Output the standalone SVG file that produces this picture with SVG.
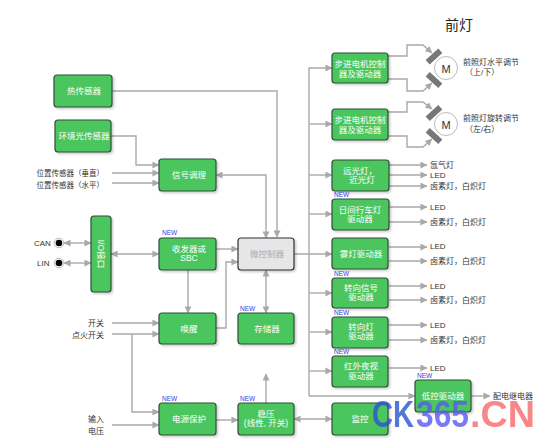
<svg xmlns="http://www.w3.org/2000/svg" width="550" height="448" viewBox="0 0 550 448">
<defs>
<filter id="sh" x="-10%" y="-10%" width="125%" height="125%"><feDropShadow dx="1.5" dy="1.5" stdDeviation="1" flood-color="#000" flood-opacity="0.22"/></filter>
<marker id="a" viewBox="0 0 8 8" refX="7.5" refY="4" markerWidth="7" markerHeight="7" markerUnits="userSpaceOnUse" orient="auto-start-reverse"><path d="M0 0L8 4L0 8Z" fill="#a9a9a9"/></marker>
</defs>
<style>
text{font-family:"Liberation Sans","Noto Sans CJK SC",sans-serif}
.g rect{fill:#4cc65f;stroke:#2f4f38;stroke-width:1.2;filter:url(#sh)}
.u rect{fill:#e6e6e6;stroke:#333;stroke-width:1.2;filter:url(#sh)}
.g text{fill:#fff;font-size:8.5px;text-anchor:middle}
.u text{fill:#aaa;font-size:8.5px;text-anchor:middle}
.c path{fill:none;stroke:#a9a9a9;stroke-width:1.4;marker-end:url(#a)}
.c path.b{marker-start:url(#a)}
.l{font-size:8px;fill:#333}
.r{text-anchor:end}
.new{font-size:6.5px;fill:#3a3ae0}
.bar{fill:#777}
</style>
<rect width="550" height="448" fill="#fff"/>
<text x="459" y="30" font-size="14" fill="#222" text-anchor="middle">前灯</text>
<g class="c" id="connectors">
<path d="M112 91H277V237"/>
<path d="M111 136H136V165H159"/>
<path d="M112 173H159"/>
<path d="M112 183H159"/>
<path class="b" d="M216 175H266V238"/>
<path class="b" d="M64 243H91"/>
<path class="b" d="M64 263H91"/>
<path class="b" d="M111 254H159"/>
<path d="M216 249H238"/>
<path d="M216 328H226V262H238"/>
<path d="M188 270V313"/>
<path class="b" d="M266 270V313"/>
<path d="M112 323H159"/>
<path d="M112 334H159"/>
<path d="M132 334V412H159"/>
<path d="M112 425H159"/>
<path d="M216 420H238"/>
<path d="M266 403V374"/>
<path class="b" d="M294 419H332"/>
<path d="M294 254H332"/>
<path d="M309 396V68H332"/>
<path d="M309 124H332"/>
<path d="M309 175H332"/>
<path d="M309 214H332"/>
<path d="M309 293H332"/>
<path d="M309 332H332"/>
<path d="M309 371H332"/>
<path d="M309 396H415"/>
<path d="M388 56H407V45H423L432 53"/>
<path d="M388 79H407V91H423L432 83"/>
<path d="M388 112H407V102H423L432 109"/>
<path d="M388 136H407V147H423L432 139"/>
<path d="M389 165H427"/>
<path d="M389 175H427"/>
<path d="M389 186H427"/>
<path d="M389 207H427"/>
<path d="M389 222H427"/>
<path d="M389 247H427"/>
<path d="M389 261H427"/>
<path d="M389 286H427"/>
<path d="M389 300H427"/>
<path d="M389 325H427"/>
<path d="M389 340H427"/>
<path d="M389 368H427"/>
<path d="M471 396H490"/>
</g>
<g id="motor1"><rect class="bar" x="425.500" y="53.500" width="17" height="6" transform="rotate(-42 434 56.500)"/><rect class="bar" x="425.500" y="77" width="17" height="6" transform="rotate(42 434 80)"/><circle cx="446" cy="68" r="11.500" fill="#fff" stroke="#bbb"/><text x="446" y="72.500" font-size="11" fill="#333" text-anchor="middle">M</text></g>
<g id="motor2"><rect class="bar" x="425.500" y="110" width="17" height="6" transform="rotate(-42 434 113)"/><rect class="bar" x="425.500" y="133" width="17" height="6" transform="rotate(42 434 136)"/><circle cx="446" cy="124" r="11.500" fill="#fff" stroke="#bbb"/><text x="446" y="128.500" font-size="11" fill="#333" text-anchor="middle">M</text></g>
<g id="can"><circle cx="59" cy="243" r="4.800" fill="#fff" stroke="#bbb"/><circle cx="59" cy="243" r="3.300" fill="#000"/><text class="l" x="34" y="246">CAN</text></g>
<g id="lin"><circle cx="59" cy="263" r="4.800" fill="#fff" stroke="#bbb"/><circle cx="59" cy="263" r="3.300" fill="#000"/><text class="l" x="37" y="266">LIN</text></g>
<g id="n-heat" class="g"><rect x="54" y="75" width="58" height="32" rx="3"/><text x="84" y="94">热传感器</text></g>
<g id="n-light" class="g"><rect x="55" y="120" width="56" height="32" rx="3"/><text x="84" y="139">环境光传感器</text></g>
<g id="n-cond" class="g"><rect x="159" y="159" width="57" height="32" rx="3"/><text x="189" y="178">信号调理</text></g>
<g id="n-io" class="g"><rect x="91" y="216" width="20" height="76" rx="3"/><text x="0" y="0" transform="translate(98,254) rotate(90)">I/O接口</text></g>
<g id="n-sbc" class="g"><rect x="159" y="238" width="57" height="32" rx="3"/><text x="189" y="252">收发器或</text><text x="189" y="261">SBC</text></g>
<g id="n-mcu" class="u"><rect x="238" y="238" width="56" height="32" rx="3"/><text x="267" y="257">微控制器</text></g>
<g id="n-wake" class="g"><rect x="159" y="313" width="57" height="31" rx="3"/><text x="189" y="332">唤醒</text></g>
<g id="n-mem" class="g"><rect x="238" y="313" width="56" height="31" rx="3"/><text x="267" y="332">存储器</text></g>
<g id="n-prot" class="g"><rect x="159" y="403" width="57" height="32" rx="3"/><text x="189" y="422">电源保护</text></g>
<g id="n-reg" class="g"><rect x="238" y="403" width="56" height="32" rx="3"/><text x="266" y="417">稳压</text><text x="266" y="426">(线性, 开关)</text></g>
<g id="n-mon" class="g"><rect x="332" y="403" width="56" height="32" rx="3"/><text x="360" y="422">监控</text></g>
<g id="n-step1" class="g"><rect x="332" y="53" width="56" height="30" rx="3"/><text x="360" y="67">步进电机控制</text><text x="360" y="77">器及驱动器</text></g>
<g id="n-step2" class="g"><rect x="332" y="109" width="56" height="31" rx="3"/><text x="360" y="123">步进电机控制</text><text x="360" y="133">器及驱动器</text></g>
<g id="n-beam" class="g"><rect x="332" y="160" width="57" height="31" rx="3"/><text x="360" y="174">远光灯，</text><text x="362" y="183">近光灯</text></g>
<g id="n-day" class="g"><rect x="332" y="199" width="57" height="31" rx="3"/><text x="360" y="213">日间行车灯</text><text x="360" y="222">驱动器</text></g>
<g id="n-fog" class="g"><rect x="332" y="238" width="56" height="31" rx="3"/><text x="361" y="257">雾灯驱动器</text></g>
<g id="n-turn1" class="g"><rect x="332" y="278" width="56" height="30" rx="3"/><text x="361" y="291">转向信号</text><text x="361" y="300">驱动器</text></g>
<g id="n-turn2" class="g"><rect x="332" y="317" width="56" height="31" rx="3"/><text x="361" y="330">转向灯</text><text x="361" y="339">驱动器</text></g>
<g id="n-ir" class="g"><rect x="332" y="356" width="56" height="31" rx="3"/><text x="361" y="369">红外夜视</text><text x="361" y="379">驱动器</text></g>
<g id="n-low" class="g"><rect x="415" y="380" width="56" height="32" rx="3"/><text x="443" y="399">低控驱动器</text></g>
<g id="labels">
<text class="l r" x="104" y="176" font-size="7.500" style="font-size:7.500px">位置传感器（垂直）</text>
<text class="l r" x="104" y="188" style="font-size:7.500px">位置传感器（水平）</text>
<text class="l r" x="104" y="326">开关</text>
<text class="l r" x="104" y="338">点火开关</text>
<text class="l r" x="104" y="422">输入</text>
<text class="l r" x="104" y="434">电压</text>
<text class="l" x="463" y="65">前照灯水平调节</text>
<text class="l" x="465" y="75">（上/下）</text>
<text class="l" x="463" y="121">前照灯旋转调节</text>
<text class="l" x="465" y="132">（左/右）</text>
<text class="l" x="430" y="168">氙气灯</text>
<text class="l" x="430" y="178">LED</text>
<text class="l" x="430" y="189">卤素灯，白炽灯</text>
<text class="l" x="430" y="210">LED</text>
<text class="l" x="430" y="225">卤素灯，白炽灯</text>
<text class="l" x="430" y="249">LED</text>
<text class="l" x="430" y="264">卤素灯，白炽灯</text>
<text class="l" x="430" y="289">LED</text>
<text class="l" x="430" y="303">卤素灯，白炽灯</text>
<text class="l" x="430" y="328">LED</text>
<text class="l" x="430" y="343">卤素灯，白炽灯</text>
<text class="l" x="430" y="371">LED</text>
<text class="l" x="493" y="399">配电继电器</text>
<text class="new" x="162" y="235">NEW</text>
<text class="new" x="240" y="311">NEW</text>
<text class="new" x="162" y="401">NEW</text>
<text class="new" x="240" y="401">NEW</text>
<text class="new" x="334" y="197">NEW</text>
<text class="new" x="334" y="276">NEW</text>
<text class="new" x="334" y="315">NEW</text>
<text class="new" x="334" y="354">NEW</text>
<text class="new" x="417" y="378">NEW</text>
</g>
<g id="watermark" font-size="36" font-weight="bold" opacity="0.8">
<text x="372" y="427" fill="#2a55d0" textLength="42" lengthAdjust="spacingAndGlyphs">CK</text>
<text x="416" y="427" fill="#5a5af0" textLength="53" lengthAdjust="spacingAndGlyphs">365</text>
<text x="470" y="427" fill="#f86a6a" textLength="65" lengthAdjust="spacingAndGlyphs">.CN</text>
</g>
</svg>
